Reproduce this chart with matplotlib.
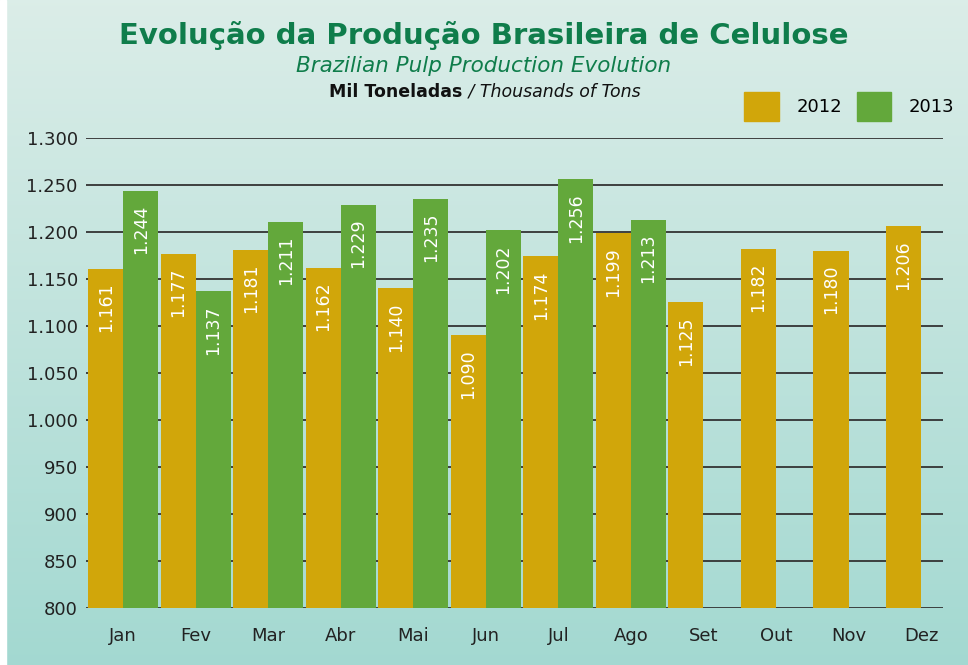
import numpy as np
import matplotlib.pyplot as plt
from matplotlib.patches import Patch

# dados (mil toneladas)
meses = ['Jan', 'Fev', 'Mar', 'Abr', 'Mai', 'Jun', 'Jul', 'Ago', 'Set', 'Out', 'Nov', 'Dez']
prod_2012 = [1161, 1177, 1181, 1162, 1140, 1090, 1174, 1199, 1125, 1182, 1180, 1206]
prod_2013 = [1244, 1137, 1211, 1229, 1235, 1202, 1256, 1213]
yticks = np.arange(800, 1301, 50)

cor_2012 = '#d1a60a'
cor_2013 = '#63a83b'
verde_titulo = '#0f7d4b'

def fmt(v):
    # separador de milhar com ponto
    return f'{v:,}'.replace(',', '.')

plt.rcParams['font.family'] = ['DejaVu Sans']

fig = plt.figure(figsize=(9.68, 6.65), dpi=100)

# fundo em degradê
bg = fig.add_axes([0, 0, 1, 1], zorder=-10)
grad = np.linspace(0, 1, 256).reshape(-1, 1)
top = np.array([0.86, 0.93, 0.91])
bot = np.array([0.64, 0.85, 0.82])
img = top + grad[..., None] * (bot - top)
bg.imshow(img, aspect='auto', extent=[0, 1, 0, 1])
bg.axvspan(0, 0.006, color='white')
bg.axis('off')

ax = fig.add_axes([0.089, 0.0857, 0.885, 0.7068])
ax.set_facecolor('none')

w = 0.483
x = np.arange(len(meses))
b1 = ax.bar(x[:len(prod_2012)], prod_2012, width=-w, align='edge', color=cor_2012, zorder=3)
b2 = ax.bar(x[:len(prod_2013)], prod_2013, width=w, align='edge', color=cor_2013, zorder=3)

for bars, vals in [(b1, prod_2012), (b2, prod_2013)]:
    for r, v in zip(bars, vals):
        ax.annotate(fmt(v), (r.get_x() + r.get_width() / 2, v), xytext=(0, -10),
                    textcoords='offset points', rotation=90, ha='center', va='top',
                    color='white', fontsize=12.5, zorder=4)

ax.set_ylim(800, 1300)
ax.set_xlim(-0.51, 11.3)
ax.set_yticks(yticks)
ax.set_yticklabels([fmt(v) for v in yticks], fontsize=13, color='#222222')
ax.set_xticks(x)
ax.set_xticklabels(meses, fontsize=13, color='#222222')
ax.tick_params(length=0, pad=6)
ax.tick_params(axis='x', pad=14)
for s in ax.spines.values():
    s.set_visible(False)
ax.grid(axis='y', color='#333333', linewidth=1.3, zorder=1)
ax.set_axisbelow(True)

# títulos
fig.text(0.5, 0.947, 'Evolução da Produção Brasileira de Celulose', ha='center', va='center',
         fontsize=21, fontweight='bold', color=verde_titulo)
fig.text(0.5, 0.901, 'Brazilian Pulp Production Evolution', ha='center', va='center',
         fontsize=15.5, style='italic', color=verde_titulo)
fig.text(0.478, 0.862, 'Mil Toneladas', ha='right', va='center', fontsize=12.5,
         fontweight='bold', color='#111111')
fig.text(0.478, 0.862, ' / Thousands of Tons', ha='left', va='center', fontsize=12.5,
         style='italic', color='#111111')

handles = [Patch(color=cor_2012, label='2012'), Patch(color=cor_2013, label='2013')]
fig.legend(handles=handles, ncol=2, frameon=False, loc='center right',
           bbox_to_anchor=(1.003, 0.84), fontsize=13, handlelength=1.9,
           handleheight=2.1, columnspacing=0.8, handletextpad=1.0)

plt.savefig('out.png', dpi=100)
